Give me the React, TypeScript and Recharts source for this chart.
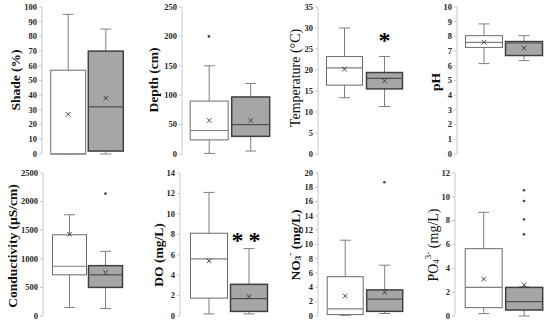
import React from 'react';
import { ComposedChart, Bar, Scatter, XAxis, YAxis } from 'recharts';

const groups = ['Group A', 'Group B'];

// five-number summaries per group: [min, q1, median, q3, max]
const shadeBox = [[0, 0, 0, 57, 95], [0, 2, 32, 70, 85]];
const shadeMean = [27, 38];
const shadeOut = [[], []];
const shadeTicks = [0, 10, 20, 30, 40, 50, 60, 70, 80, 90, 100];

const depthBox = [[1, 24, 40, 90, 150], [5, 30, 50, 97, 120]];
const depthMean = [57, 57];
const depthOut = [[200], []];
const depthTicks = [0, 50, 100, 150, 200, 250];

const tempBox = [[13.4, 16.4, 20.5, 23.2, 30], [11.3, 15.5, 18, 19.4, 23.2]];
const tempMean = [20.2, 17.4];
const tempOut = [[], []];
const tempTicks = [0, 5, 10, 15, 20, 25, 30, 35];

const phBox = [[6.15, 7.25, 7.6, 8.05, 8.85], [6.35, 6.7, 7.55, 7.65, 8.05]];
const phMean = [7.6, 7.2];
const phOut = [[], []];
const phTicks = [0, 1, 2, 3, 4, 5, 6, 7, 8, 9, 10];

const condBox = [[150, 720, 870, 1420, 1770], [130, 500, 720, 880, 1130]];
const condMean = [1430, 760];
const condOut = [[], [2140]];
const condTicks = [0, 500, 1000, 1500, 2000, 2500];

const doBox = [[0.2, 1.75, 5.6, 8.1, 12.1], [0.2, 0.45, 1.7, 3.1, 6.6]];
const doMean = [5.4, 1.9];
const doOut = [[], []];
const doTicks = [0, 2, 4, 6, 8, 10, 12, 14];

const no3Box = [[0.1, 0.2, 1.0, 5.5, 10.6], [0.35, 0.65, 2.35, 3.65, 7.1]];
const no3Mean = [2.8, 3.3];
const no3Out = [[], [18.7]];
const no3Ticks = [0, 2, 4, 6, 8, 10, 12, 14, 16, 18, 20];

const po4Box = [[0.2, 0.7, 2.4, 5.65, 8.7], [0, 0.5, 1.2, 2.4, 2.45]];
const po4Mean = [3.1, 2.6];
const po4Out = [[], [6.85, 8.1, 9.65, 10.55]];
const po4Ticks = [0, 2, 4, 6, 8, 10, 12];

// significance marks above the second group
const tempSig = [{ g: groups[1], v: 27.9, t: '*' }];
const doSig = [{ g: groups[1], v: 7.7, t: '**' }];

const serif = '"Liberation Serif", "Times New Roman", serif';
const fills = ['#ffffff', '#a6a6a6'];
const strokes = ['#6b6b6b', '#404040'];

const panels = [
  { box: shadeBox, mean: shadeMean, out: shadeOut, ticks: shadeTicks, sig: [], title: 'Shade (%)', bold: true,
    left: 0, top: 0, yW: 42, pl: 7.7, band: 37.6, bar: 35, lx: 15, ly: 80 },
  { box: depthBox, mean: depthMean, out: depthOut, ticks: depthTicks, sig: [], title: 'Depth (cm)', bold: true,
    left: 137, top: 0, yW: 45, pl: 6.2, band: 41.5, bar: 38, lx: 16, ly: 80 },
  { box: tempBox, mean: tempMean, out: tempOut, ticks: tempTicks, sig: tempSig, title: 'Temperature (°C)', bold: false,
    left: 274, top: 0, yW: 44, pl: 6.5, band: 40, bar: 36, lx: 21, ly: 78 },
  { box: phBox, mean: phMean, out: phOut, ticks: phTicks, sig: [], title: 'pH', bold: true,
    left: 411, top: 0, yW: 46, pl: 6.5, band: 40, bar: 37, lx: 24, ly: 82 },
  { box: condBox, mean: condMean, out: condOut, ticks: condTicks, sig: [], title: 'Conductivity (µS/cm)', bold: true,
    left: 0, top: 162, yW: 43, pl: 8.5, band: 36, bar: 34, lx: 12, ly: 84 },
  { box: doBox, mean: doMean, out: doOut, ticks: doTicks, sig: doSig, title: 'DO (mg/L)', bold: true,
    left: 137, top: 162, yW: 43, pl: 8.5, band: 40, bar: 37, lx: 21, ly: 93 },
  { box: no3Box, mean: no3Mean, out: no3Out, ticks: no3Ticks, sig: [], title: 'NO3-', bold: true,
    left: 274, top: 162, yW: 44, pl: 7.2, band: 39.5, bar: 36, lx: 21, ly: 83 },
  { box: po4Box, mean: po4Mean, out: po4Out, ticks: po4Ticks, sig: [], title: 'PO43-', bold: false,
    left: 411, top: 162, yW: 44, pl: 8.2, band: 40.5, bar: 37, lx: 22, ly: 83 },
];

const titleParts = (title: string) => {
  if (title === 'NO3-') {
    return [<tspan key="a">NO</tspan>, <tspan key="b" dy={3} fontSize={9}>3</tspan>,
      <tspan key="c" dy={-8} fontSize={9}>-</tspan>, <tspan key="d" dy={5}> (mg/L)</tspan>];
  }
  if (title === 'PO43-') {
    return [<tspan key="a">PO</tspan>, <tspan key="b" dy={3} fontSize={9}>4</tspan>,
      <tspan key="c" dy={-8} fontSize={9}>3-</tspan>, <tspan key="d" dy={5}> (mg/L)</tspan>];
  }
  return title;
};

const groupIndex = (p: any) => Math.max(0, groups.indexOf(p?.payload?.g ?? p?.g));

const BoxShape = (p: any) => {
  const i = groupIndex(p);
  return <rect x={p.x} y={p.y} width={p.width} height={Math.max(p.height || 0, 0)} fill={fills[i]} stroke={strokes[i]} strokeWidth={i ? 1.5 : 1} />;
};

const WhiskerShape = (p: any) => {
  const cx = p.x + p.width / 2;
  const y1 = p.y, y2 = p.y + (p.height || 0);
  return (
    <g stroke="#7f7f7f" strokeWidth={1}>
      <line x1={cx} x2={cx} y1={y1} y2={y2} />
      <line x1={cx - 5.5} x2={cx + 5.5} y1={y1} y2={y1} />
      <line x1={cx - 5.5} x2={cx + 5.5} y1={y2} y2={y2} />
    </g>
  );
};

const MedianShape = (p: any) => {
  const i = groupIndex(p);
  return <line x1={p.x} x2={p.x + p.width} y1={p.y} y2={p.y} stroke={i ? '#505050' : '#7f7f7f'} strokeWidth={1.2} />;
};

const MeanShape = (p: any) => {
  const cx = p.x + p.width / 2;
  const cy = p.y;
  return (
    <g stroke="#333" strokeWidth={0.9}>
      <line x1={cx - 2.3} x2={cx + 2.3} y1={cy - 2.3} y2={cy + 2.3} />
      <line x1={cx - 2.3} x2={cx + 2.3} y1={cy + 2.3} y2={cy - 2.3} />
    </g>
  );
};

const OutlierShape = (p: any) => <circle cx={p.cx} cy={p.cy} r={1.3} fill="#444" />;

const makeSigShape = (t: string) => (p: any) => (
  <text x={p.cx} y={p.cy + 11} textAnchor="middle" fontFamily={serif} fontWeight="bold" fontSize={24}
    letterSpacing={t.length > 1 ? 5 : 0} fill="#000">{t}</text>
);

const TickLabel = (p: any) => (
  <text x={p.x} y={p.y} dy="0.33em" textAnchor="end" fontFamily={serif} fontWeight="bold" fontSize={8.5} fill="#262626">
    {p.payload?.value}
  </text>
);

const Panel = ({ cfg }: any) => {
  const rows = groups.map((g, i) => {
    const [mn, q1, md, q3, mx] = cfg.box[i];
    return { g, wh: [mn, mx], box: [q1, q3], med: [q1, md], mean: [0, cfg.mean[i]] };
  });
  const outliers = groups.flatMap((g, i) => cfg.out[i].map((v: number) => ({ g, v })));
  const top = cfg.top ? 11 : 7;
  const width = cfg.yW + cfg.pl + cfg.band * 2 + 2;
  const xProps = { dataKey: 'g', type: 'category' as const, hide: true, allowDuplicatedCategory: false, padding: { left: cfg.pl, right: 2 } };
  const sigText = cfg.sig.length ? cfg.sig[0].t : '';
  return (
    <div style={{ position: 'absolute', left: cfg.left, top: cfg.top }}>
      <ComposedChart width={width} height={162} data={rows} margin={{ top, bottom: 8, left: 0, right: 0 }}>
        <XAxis xAxisId="wh" {...xProps} />
        <XAxis xAxisId="box" {...xProps} />
        <XAxis xAxisId="med" {...xProps} />
        <XAxis xAxisId="mean" {...xProps} />
        <YAxis width={cfg.yW} type="number" domain={[0, cfg.ticks[cfg.ticks.length - 1]]} ticks={cfg.ticks} interval={0}
          axisLine={{ stroke: '#c8c8c8' }} tickLine={{ stroke: '#c8c8c8' }} tickSize={3} tickMargin={2}
          tick={<TickLabel />} />
        <Bar xAxisId="wh" dataKey="wh" barSize={cfg.bar} shape={WhiskerShape} isAnimationActive={false} />
        <Bar xAxisId="box" dataKey="box" barSize={cfg.bar} shape={BoxShape} isAnimationActive={false} />
        <Bar xAxisId="med" dataKey="med" barSize={cfg.bar} shape={MedianShape} isAnimationActive={false} />
        <Bar xAxisId="mean" dataKey="mean" barSize={cfg.bar} shape={MeanShape} isAnimationActive={false} />
        {outliers.length > 0 && (
          <Scatter xAxisId="box" data={outliers} dataKey="v" shape={OutlierShape} isAnimationActive={false} />
        )}
        {cfg.sig.length > 0 && (
          <Scatter xAxisId="box" data={cfg.sig} dataKey="v" shape={makeSigShape(sigText)} isAnimationActive={false} />
        )}
      </ComposedChart>
      <svg width={40} height={162} style={{ position: 'absolute', left: 0, top: 0, pointerEvents: 'none' }}>
        <text x={cfg.lx} y={cfg.ly} transform={`rotate(-90 ${cfg.lx} ${cfg.ly})`} textAnchor="middle" dominantBaseline="central"
          fontFamily={serif} fontSize={cfg.bold ? 13.5 : 14} fontWeight={cfg.bold ? 'bold' : 'normal'} fill="#111">
          {titleParts(cfg.title)}
        </text>
      </svg>
    </div>
  );
};

export default function App() {
  return (
    <div style={{ position: 'fixed', left: 0, top: 0, width: 550, height: 324, background: '#fff', overflow: 'hidden' }}>
      {panels.map((cfg, i) => <Panel key={i} cfg={cfg} />)}
    </div>
  );
}
